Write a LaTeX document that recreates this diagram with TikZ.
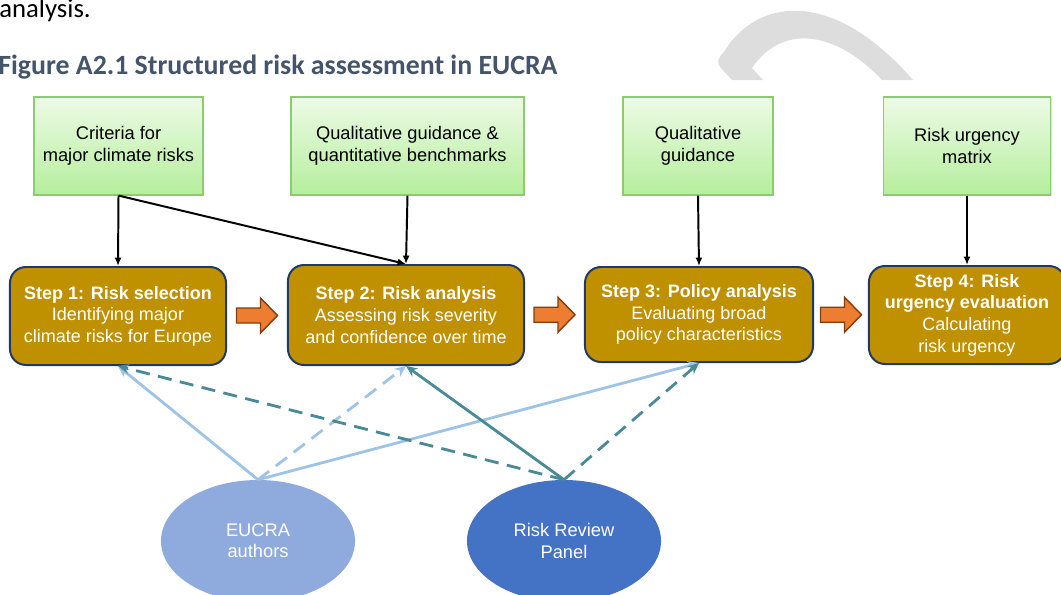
\documentclass[tikz,border=0pt]{standalone}
\usepackage{fontspec}
\setmainfont{Liberation Sans}
\newfontfamily\carlito{Carlito}
\usetikzlibrary{arrows.meta, shapes.geometric, calc, shadows}

\definecolor{stepgold}{HTML}{BF9000}
\definecolor{stepline}{HTML}{1F3864}
\definecolor{greentop}{HTML}{EDFBE6}
\definecolor{greenbot}{HTML}{B5EE9C}
\definecolor{greenline}{HTML}{8CCB6E}
\definecolor{flowfill}{HTML}{ED7D31}
\definecolor{flowline}{HTML}{843C0C}
\definecolor{authorblue}{HTML}{8FAADC}
\definecolor{panelblue}{HTML}{4472C4}
\definecolor{lightlink}{HTML}{9DC3E6}
\definecolor{teallink}{HTML}{4A8A96}
\definecolor{titlegrey}{HTML}{44546A}
\definecolor{arcgrey}{HTML}{DDDDDD}

\tikzset{
  inputbox/.style={draw=greenline, line width=0.8pt, top color=greentop, bottom color=greenbot,
    align=center, minimum height=2.45cm, font=\fontsize{13}{15.8}\selectfont,
    drop shadow={shadow xshift=0.8pt, shadow yshift=-0.8pt, opacity=0.25}},
  stepbox/.style={draw=stepline, line width=1.4pt, fill=stepgold, rounded corners=0.4cm,
    text=white, align=center, font=\fontsize{12.8}{15.4}\selectfont},
  actor/.style={ellipse, minimum width=4.85cm, minimum height=3.05cm, text=white,
    align=center, font=\fontsize{13}{15.2}\selectfont},
  feed/.style={-{Latex[length=6pt,width=5pt]}, line width=1.4pt},
  link/.style={-{Stealth[length=8pt,width=7pt]}, line width=2pt},
  dashlink/.style={link, dash pattern=on 10pt off 6pt},
  flowarrow/.pic={
    \filldraw[fill=flowfill, draw=flowline, line width=1pt]
      (-20.5,-7.5) -- (3.5,-7.5) -- (3.5,-17.5) -- (20.5,0) -- (3.5,17.5)
      -- (3.5,7.5) -- (-20.5,7.5) -- cycle;}
}

\begin{document}
\begin{tikzpicture}[x=0.025cm, y=-0.025cm]
  \clip (0,0) rectangle (1061,594);
  % text above the figure
  \node[anchor=base east, inner sep=0, font=\carlito\fontsize{19}{22}\selectfont] (prev) at (91,17.5) {analysis.};
  \node[anchor=base west, inner sep=0, text=titlegrey, font=\carlito\fontsize{19.8}{23}\selectfont\bfseries] (title) at (-2,74) {Figure A2.1 Structured risk assessment in EUCRA};
  % grey curved shape at the top
  \fill[arcgrey] (732,80) -- (721,68) .. controls (716,62) and (718,58) .. (724,52)
    .. controls (755,0) and (830,-15) .. (913,80) -- (882,80)
    .. controls (840,35) and (785,20) .. (752,68) -- (763,80) -- cycle;
  % inputs
  \node[inputbox, minimum width=4.225cm] (crit) at (118.5,146) {Criteria for\\major climate risks};
  \node[inputbox, minimum width=5.825cm] (guide) at (407.5,146) {Qualitative guidance \&\\quantitative benchmarks};
  \node[inputbox, minimum width=3.75cm] (qual) at (698,146) {Qualitative\\guidance};
  \node[inputbox, minimum width=4.175cm] (matrix) at (967,146) {Risk urgency\\matrix};
  % the four steps
  \node[stepbox, minimum width=5.4cm, minimum height=2.45cm] (step1) at (118,316) {\textbf{Step 1: Risk selection}\\Identifying major\\climate risks for Europe};
  \node[stepbox, minimum width=5.9cm, minimum height=2.5cm] (step2) at (406,315) {\textbf{Step 2: Risk analysis}\\Assessing risk severity\\and confidence over time};
  \node[stepbox, minimum width=5.7cm, minimum height=2.375cm] (step3) at (699,314.5) {\textbf{Step 3: Policy analysis}\\Evaluating broad\\policy characteristics};
  \node[stepbox, minimum width=4.9cm, minimum height=2.45cm] (step4) at (967,315) {\textbf{Step 4: Risk}\\\textbf{urgency evaluation}\\Calculating\\risk urgency};
  % arrows between steps
  \pic at ($(step1.east)!0.5!(step2.west)$) {flowarrow};
  \pic at ($(step2.east)!0.5!(step3.west)$) {flowarrow};
  \pic at ($(step3.east)!0.5!(step4.west)$) {flowarrow};
  % inputs feed the steps
  \draw[feed] (crit.south) -- (step1.north);
  \draw[feed] (crit.south) -- (step2.north);
  \draw[feed] (guide.south) -- (step2.north);
  \draw[feed] (qual.south) -- (step3.north);
  \draw[feed] (matrix.south) -- (step4.north);
  % who does what
  \node[actor, fill=authorblue] (authors) at (258,541) {EUCRA\\authors};
  \node[actor, fill=panelblue] (panel) at (564,541) {Risk Review\\Panel};
  \draw[link, lightlink] (authors.north) -- (step1.south);
  \draw[dashlink, lightlink] (authors.north) -- (step2.south);
  \draw[link, lightlink] (authors.north) -- (step3.south);
  \draw[dashlink, teallink] (panel.north) -- (step1.south);
  \draw[link, teallink] (panel.north) -- (step2.south);
  \draw[dashlink, teallink] (panel.north) -- (step3.south);
\end{tikzpicture}
\end{document}
